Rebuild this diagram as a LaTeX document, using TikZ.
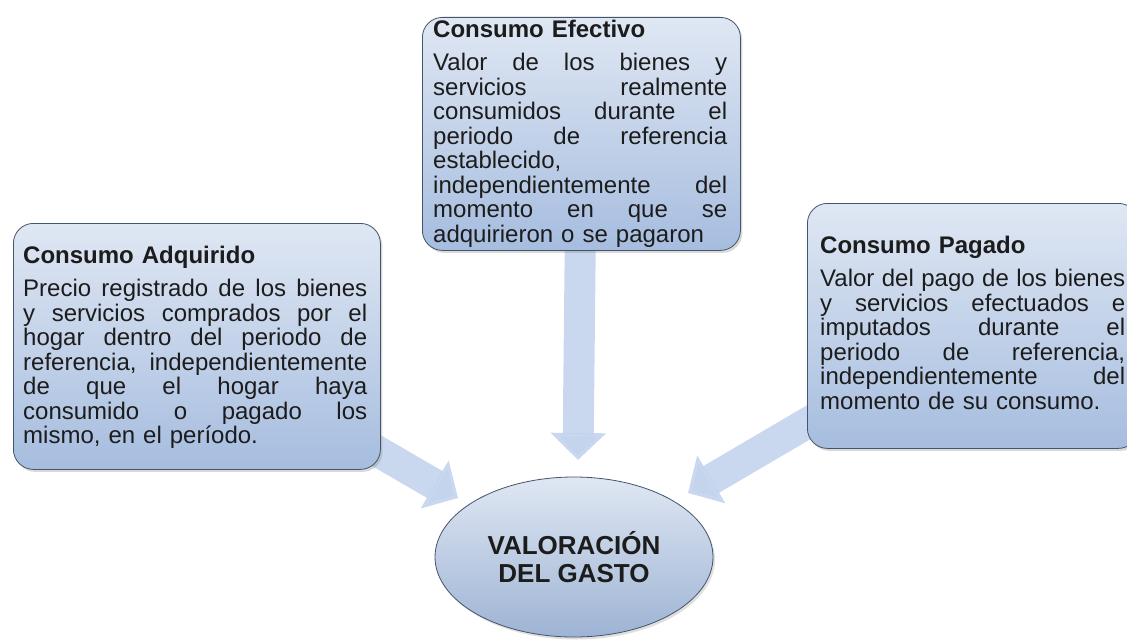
\documentclass[tikz,border=0pt]{standalone}
\usepackage{fontspec}
\setmainfont{Liberation Sans}
\usepackage{tikz}
\usetikzlibrary{shapes.geometric,arrows.meta,shadows,backgrounds}
\usepackage{xcolor}

\definecolor{boitehaut}{HTML}{DFE7F3}
\definecolor{boitebas}{HTML}{A6BDDF}
\definecolor{bord}{HTML}{44546A}
\definecolor{fleche}{HTML}{C3D4EC}
\definecolor{encre}{HTML}{1C1C1C}

% une ligne justifiee (espaces etirables)
\newcommand{\ligne}[1]{\hbox to \hsize{\spaceskip=\fontdimen2\font plus 1fil
  \xspaceskip=\spaceskip #1}}

\tikzset{
  boite/.style={rectangle, rounded corners=20pt, draw=bord, line width=0.8pt,
    top color=boitehaut, bottom color=boitebas, inner sep=0pt, anchor=north west,
    drop shadow={opacity=0.3, shadow xshift=2pt, shadow yshift=-2.5pt}},
  contenu/.style={anchor=north west, inner sep=0pt, text width=#1, align=left,
    text=encre, font=\fontsize{24}{24.5}\selectfont},
  rond/.style={ellipse, draw=bord, line width=0.8pt, top color=boitehaut,
    bottom color=boitebas!95!black, minimum width=278pt, minimum height=160pt,
    inner sep=0pt, align=center, text=encre,
    font=\bfseries\fontsize{26}{28}\selectfont,
    drop shadow={opacity=0.25, shadow xshift=2pt, shadow yshift=-2.5pt}},
  fleche/.style={line width=31pt, draw=fleche, draw opacity=0.9,
    -{Triangle[width=54pt,length=27pt]}}
}

\begin{document}
\begin{tikzpicture}[x=1pt, y=-1pt] % un pixel = un point, y vers le bas
\useasboundingbox (0,0) rectangle (1127,642);

% Les trois boites
\node[boite, minimum width=367pt, minimum height=246pt] (adq) at (13,223) {};
\node[boite, minimum width=318pt, minimum height=233pt] (efe) at (422,17) {};
\node[boite, minimum width=331pt, minimum height=245pt] (pag) at (807,203) {};

% Les textes
\node[contenu=344pt] (adqtxt) at (23,245.5) {\textbf{Consumo Adquirido}\\[9pt]
  \ligne{Precio registrado de los bienes}
  \ligne{y servicios comprados por el}
  \ligne{hogar dentro del periodo de}
  \ligne{referencia, independientemente}
  \ligne{de que el hogar haya}
  \ligne{consumido o pagado los}
  mismo, en el período.};

\node[contenu=294pt] (efetxt) at (433,19.5) {\textbf{Consumo Efectivo}\\[9pt]
  \ligne{Valor de los bienes y}
  \ligne{servicios realmente}
  \ligne{consumidos durante el}
  \ligne{periodo de referencia}
  establecido,\\
  \ligne{independientemente del}
  \ligne{momento en que se}
  adquirieron o se pagaron};

\node[contenu=305pt] (pagtxt) at (820,235.5) {\textbf{Consumo Pagado}\\[9pt]
  \ligne{Valor del pago de los bienes}
  \ligne{y servicios efectuados e}
  \ligne{imputados durante el}
  \ligne{periodo de referencia,}
  \ligne{independientemente del}
  momento de su consumo.};

% Le noeud central
\node[rond] (gasto) at (574,557) {VALORACIÓN\\DEL GASTO};

% Les pointes des fleches
\coordinate (pA) at (458,498);
\coordinate (pE) at (578,460);
\coordinate (pP) at (688,493);

% Les fleches, derriere les boites
\begin{scope}[on background layer]
\draw[fleche] (adq.center) -- (pA);
\draw[fleche] (efe.center) -- (pE);
\draw[fleche] (pag.center) -- (pP);
\end{scope}
\end{tikzpicture}
\end{document}
